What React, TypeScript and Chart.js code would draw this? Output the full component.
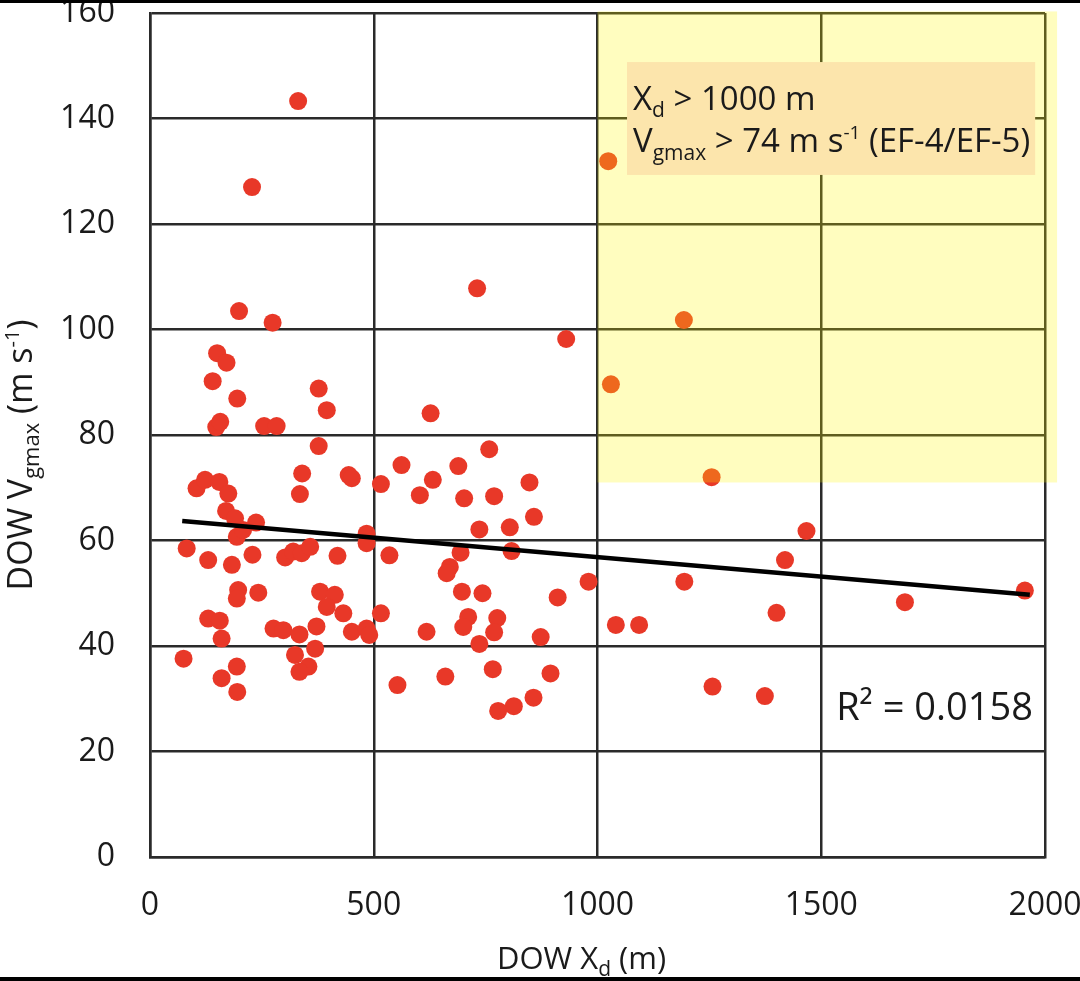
import { useEffect, useRef } from "react";
import { Chart, registerables } from "chart.js";

Chart.register(...registerables);

// DOW distance to nearest gust (m) vs max ground-relative wind (m/s)
const xd = [
  199, 274, 150, 171, 140, 195, 377, 395, 148, 157, 255, 283, 377, 627, 340, 335, 444, 451, 516, 562,
  632, 603, 104, 123, 155, 175, 170, 190, 237, 194, 208, 82, 130, 183, 229, 302, 320, 339, 358, 419,
  484, 484, 535, 197, 194, 242, 380, 413, 395, 432, 451, 484, 490, 516, 618, 130, 156, 160, 276, 298,
  334, 372, 369, 75, 194, 160, 195, 324, 354, 334, 553, 331, 228, 758, 689, 702, 769, 848, 858, 736,
  804, 694, 808, 670, 663, 980, 1194, 697, 743, 911, 711, 700, 776, 769, 736, 873, 1041, 1093, 660, 766,
  895, 857, 813, 778, 1257, 1255, 1193, 1030, 1467, 1419, 1400, 1687, 1955, 1374, 1024, 930, 731,
];
const vg = [
  103.5, 101.3, 95.5, 93.7, 90.2, 86.9, 88.8, 84.7, 81.5, 82.5, 81.7, 81.7, 77.9, 84.1, 72.7, 68.8, 72.4, 71.8, 70.7, 74.3,
  71.5, 68.6, 69.9, 71.5, 71.1, 68.9, 65.6, 64.2, 63.4, 60.7, 62.0, 58.5, 56.3, 55.4, 57.3, 56.8, 57.9, 57.6, 58.8, 57.1,
  61.3, 59.5, 57.2, 50.6, 49.0, 50.1, 50.3, 49.7, 47.4, 46.2, 42.7, 43.3, 42.1, 46.2, 42.7, 45.2, 44.8, 41.4, 43.3, 43.0,
  42.2, 43.7, 39.5, 37.6, 36.1, 33.9, 31.3, 38.3, 36.1, 35.1, 32.6, 143.3, 127.0, 77.3, 74.1, 68.0, 68.4, 71.0, 64.5, 62.1,
  62.5, 57.7, 58.0, 55.0, 53.8, 52.2, 52.2, 50.3, 50.0, 49.2, 45.5, 43.6, 45.3, 42.6, 40.4, 41.7, 44.0, 44.0, 34.2, 35.6,
  34.8, 30.2, 28.6, 27.7, 32.3, 72.0, 101.8, 89.6, 61.8, 56.3, 46.3, 48.3, 50.5, 30.5, 131.9, 98.2, 107.8,
];

// linear fit as drawn
const trendX = [72, 1966];
const trendY = [63.7, 49.7];

const xTicks = [0, 500, 1000, 1500, 2000];
const yTicks = [0, 20, 40, 60, 80, 100, 120, 140, 160];

// highlighted EF-4/EF-5 region and its label box, in data units
const zoneX = [1000, 2027];
const zoneY = [71, 160.3];
const noteX = [1066, 1978];
const noteY = [129.3, 150.7];
const rSquared = "0.0158";

const FONT = "'Open Sans', sans-serif";
const INK = "#1a1a1a";
const GRID = "#2a2a2a";

type Run = { t: string; s: number; dy?: number };

function drawRuns(ctx, runs: Run[], x: number, y: number, align = "left") {
  let w = 0;
  runs.forEach((r) => {
    ctx.font = `${r.s}px ${FONT}`;
    w += ctx.measureText(r.t).width;
  });
  let cx = align === "center" ? x - w / 2 : align === "right" ? x - w : x;
  ctx.textAlign = "left";
  ctx.textBaseline = "alphabetic";
  runs.forEach((r) => {
    ctx.font = `${r.s}px ${FONT}`;
    ctx.fillText(r.t, cx, y + (r.dy || 0));
    cx += ctx.measureText(r.t).width;
  });
}

const decor = {
  id: "decor",
  beforeDraw(chart) {
    const ctx = chart.ctx;
    ctx.save();
    ctx.fillStyle = "#ffffff";
    ctx.fillRect(0, 0, chart.width, chart.height);
    ctx.restore();
  },
  afterDatasetsDraw(chart) {
    const { ctx, scales } = chart;
    const x = scales.x;
    const y = scales.y;
    ctx.save();
    // translucent yellow over grid and points
    ctx.fillStyle = "rgba(255, 246, 0, 0.25)";
    const zl = x.getPixelForValue(zoneX[0]);
    const zr = x.getPixelForValue(zoneX[1]);
    const zt = y.getPixelForValue(zoneY[1]);
    const zb = y.getPixelForValue(zoneY[0]);
    ctx.fillRect(zl, zt, zr - zl, zb - zt);

    // label box
    const nl = x.getPixelForValue(noteX[0]);
    const nr = x.getPixelForValue(noteX[1]);
    const nt = y.getPixelForValue(noteY[1]);
    const nb = y.getPixelForValue(noteY[0]);
    ctx.fillStyle = "rgb(252, 229, 172)";
    ctx.fillRect(nl, nt, nr - nl, nb - nt);

    ctx.fillStyle = INK;
    drawRuns(ctx, [{ t: "X", s: 33 }, { t: "d", s: 21, dy: 7 }, { t: " > 1000 m", s: 33 }], nl + 6, nt + 48);
    drawRuns(
      ctx,
      [
        { t: "V", s: 33 },
        { t: "gmax", s: 21, dy: 8 },
        { t: " > 74 m s", s: 33 },
        { t: "-1", s: 19, dy: -13 },
        { t: " (EF-4/EF-5)", s: 33 },
      ],
      nl + 6,
      nt + 90
    );

    // R²
    drawRuns(ctx, [{ t: "R² = " + rSquared, s: 38 }], x.getPixelForValue(1973), y.getPixelForValue(26), "right");
    ctx.restore();
  },
  afterDraw(chart) {
    const { ctx, chartArea } = chart;
    ctx.save();
    ctx.fillStyle = INK;
    // x title
    drawRuns(
      ctx,
      [{ t: "DOW X", s: 31 }, { t: "d", s: 21, dy: 7 }, { t: " (m)", s: 31 }],
      (chartArea.left + chartArea.right) / 2 - 16,
      969,
      "center"
    );
    // y title
    ctx.translate(32, (chartArea.top + chartArea.bottom) / 2 + 20);
    ctx.rotate(-Math.PI / 2);
    drawRuns(
      ctx,
      [
        { t: "DOW V", s: 34 },
        { t: "gmax", s: 22, dy: 7 },
        { t: " (m s", s: 34 },
        { t: "-1", s: 20, dy: -13 },
        { t: ")", s: 34 },
      ],
      0,
      0,
      "center"
    );
    ctx.restore();
    // black bands of the screenshot
    ctx.save();
    ctx.fillStyle = "#000";
    ctx.fillRect(0, 0, chart.width, 3);
    ctx.fillRect(0, 977, chart.width, chart.height - 977);
    ctx.restore();
  },
};

export default function App() {
  const chartRef = useRef(null);
  const chartInstance = useRef(null);

  useEffect(() => {
    const ctx = chartRef.current?.getContext("2d");
    chartInstance.current = new Chart(ctx, {
      type: "scatter",
      data: {
        datasets: [
          {
            type: "line",
            label: "fit",
            data: trendX.map((v, i) => ({ x: v, y: trendY[i] })),
            borderColor: "#000",
            borderWidth: 4.5,
            pointRadius: 0,
            fill: false,
          },
          {
            label: "DOW",
            data: xd.map((v, i) => ({ x: v, y: vg[i] })),
            backgroundColor: "rgb(232, 56, 40)",
            borderColor: "rgb(232, 56, 40)",
            borderWidth: 0,
            pointRadius: 9,
          },
        ],
      },
      options: {
        animation: false,
        responsive: false,
        devicePixelRatio: 1,
        layout: { padding: { top: 13, right: 35, left: 0, bottom: 0 } },
        plugins: { legend: { display: false }, tooltip: { enabled: false } },
        scales: {
          x: {
            type: "linear",
            min: 0,
            max: 2000,
            afterBuildTicks: (s) => {
              s.ticks = xTicks.map((v) => ({ value: v }));
            },
            afterFit: (s) => {
              s.height = 124;
              s.paddingLeft = 0;
              s.paddingRight = 0;
            },
            grid: { color: GRID, lineWidth: 2.5, drawTicks: false },
            border: { display: true, color: GRID, width: 2.5 },
            ticks: {
              padding: 30,
              color: INK,
              font: { family: FONT, size: 32 },
              maxRotation: 0,
              callback: (v) => String(v),
            },
          },
          y: {
            type: "linear",
            min: 0,
            max: 160,
            afterBuildTicks: (s) => {
              s.ticks = yTicks.map((v) => ({ value: v }));
            },
            afterFit: (s) => {
              s.width = 150;
              s.paddingTop = 0;
              s.paddingBottom = 0;
            },
            grid: { color: GRID, lineWidth: 2.5, drawTicks: false },
            border: { display: true, color: GRID, width: 2.5 },
            ticks: {
              padding: 35,
              color: INK,
              font: { family: FONT, size: 32 },
              callback: (v) => String(v),
            },
          },
        },
      },
      plugins: [decor],
    });

    return () => {
      chartInstance.current.destroy();
    };
  }, []);

  return (
    <div style={{ position: "fixed", left: 0, top: 0, width: 1080, height: 981, background: "#fff" }}>
      <canvas ref={chartRef} width={1080} height={981} style={{ width: 1080, height: 981 }} />
    </div>
  );
}
